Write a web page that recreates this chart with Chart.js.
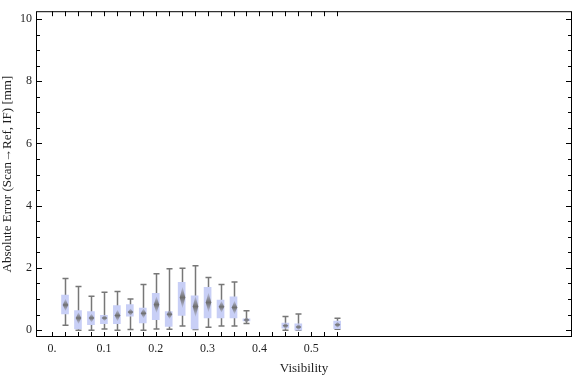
<!DOCTYPE html>
<html>
<head>
<meta charset="utf-8">
<script src="https://cdn.jsdelivr.net/npm/chart.js@4.4.1/dist/chart.umd.min.js"></script>
<style>
  html, body { margin: 0; padding: 0; background: #fff; }
  #wrap { width: 576px; height: 377px; }
</style>
</head>
<body>
<div id="wrap"><canvas id="chart" width="576" height="377"></canvas></div>
<script>
// Box-whisker data (visibility bins)
const positions   = [0.025, 0.05, 0.075, 0.1, 0.125, 0.15, 0.175, 0.2, 0.225, 0.25, 0.275, 0.3, 0.325, 0.35, 0.375, 0.45, 0.475, 0.55];
const whiskerLow  = [0.16, 0.00, 0.00, 0.04, 0.00, 0.02, 0.00, 0.04, 0.03, 0.13, 0.02, 0.09, 0.13, 0.13, 0.21, 0.00, 0.00, 0.03];
const q1Values    = [0.52, 0.04, 0.18, 0.21, 0.21, 0.45, 0.23, 0.34, 0.12, 0.47, 0.04, 0.39, 0.39, 0.39, 0.30, 0.06, 0.00, 0.05];
const medians     = [0.81, 0.39, 0.39, 0.39, 0.47, 0.58, 0.54, 0.82, 0.51, 1.05, 0.76, 0.89, 0.75, 0.73, 0.33, 0.14, 0.10, 0.17];
const q3Values    = [1.13, 0.63, 0.60, 0.48, 0.79, 0.82, 0.71, 1.18, 0.60, 1.54, 1.10, 1.38, 0.97, 1.07, 0.36, 0.23, 0.20, 0.29];
const whiskerHigh = [1.66, 1.40, 1.09, 1.22, 1.24, 1.00, 1.47, 1.81, 1.97, 1.99, 2.07, 1.69, 1.47, 1.55, 0.62, 0.44, 0.52, 0.38];

// Axis ticks
const xMajorTicks  = [0, 0.1, 0.2, 0.3, 0.4, 0.5];
const xMajorLabels = ['0.', '0.1', '0.2', '0.3', '0.4', '0.5'];
const yMajorTicks  = [0, 2, 4, 6, 8, 10];
const yMajorLabels = ['0', '2', '4', '6', '8', '10'];

const xTickValues = [];
for (let i = 0; i <= 22; i++) xTickValues.push(+(i * 0.025).toFixed(3));
const yTickValues = [];
for (let i = 0; i <= 20; i++) yTickValues.push(i * 0.5);

const FONT = "'Liberation Serif', 'DejaVu Serif', serif";
const TXT = '#1e1e1e';

function labelFor(v, ticks, labels) {
    const k = ticks.findIndex(t => Math.abs(t - v) < 1e-6);
    return k >= 0 ? labels[k] : '';
}

// ==========================================
// Whiskers, median diamonds, frame + inward ticks
// ==========================================
const boxPlugin = {
    id: 'boxPlugin',
    beforeDatasetsDraw(chart) {
        const { ctx, scales: { x, y } } = chart;
        ctx.save();
        ctx.strokeStyle = '#777';
        ctx.lineWidth = 1.5;
        positions.forEach((p, i) => {
            const px = Math.round(x.getPixelForValue(p)) + 0.5;
            const yLo = y.getPixelForValue(whiskerLow[i]);
            const yHi = y.getPixelForValue(whiskerHigh[i]);
            ctx.beginPath();
            ctx.moveTo(px, yLo); ctx.lineTo(px, yHi);
            ctx.moveTo(px - 3, yLo); ctx.lineTo(px + 3, yLo);
            ctx.moveTo(px - 3, yHi); ctx.lineTo(px + 3, yHi);
            ctx.stroke();
        });
        ctx.restore();
    },
    afterDatasetsDraw(chart) {
        const { ctx, scales: { x, y } } = chart;
        ctx.save();
        positions.forEach((p, i) => {
            const px = Math.round(x.getPixelForValue(p)) + 0.5;
            const pm = y.getPixelForValue(medians[i]);
            const boxH = Math.abs(y.getPixelForValue(q1Values[i]) - y.getPixelForValue(q3Values[i]));
            const hh = Math.max(3, boxH * 0.32);
            const g = ctx.createLinearGradient(0, pm - hh, 0, pm + hh);
            g.addColorStop(0, 'rgba(128,128,128,0.2)');
            g.addColorStop(0.5, 'rgba(110,110,110,1)');
            g.addColorStop(1, 'rgba(128,128,128,0.2)');
            ctx.fillStyle = g;
            ctx.beginPath();
            ctx.moveTo(px, pm - hh);
            ctx.lineTo(px + 2.8, pm);
            ctx.lineTo(px, pm + hh);
            ctx.lineTo(px - 2.8, pm);
            ctx.closePath();
            ctx.fill();
        });
        ctx.restore();
    },
    afterDraw(chart) {
        const { ctx, chartArea: a, scales: { x, y } } = chart;
        ctx.save();
        ctx.strokeStyle = '#000';
        ctx.lineWidth = 1;
        ctx.strokeRect(a.left + 0.5, a.top + 0.5, a.right - a.left - 1, a.bottom - a.top - 1);
        ctx.beginPath();
        xTickValues.forEach(v => {
            const px = Math.round(x.getPixelForValue(v)) + 0.5;
            ctx.moveTo(px, a.bottom); ctx.lineTo(px, a.bottom - 5);
            ctx.moveTo(px, a.top); ctx.lineTo(px, a.top + 5);
        });
        yTickValues.forEach(v => {
            const py = Math.round(y.getPixelForValue(v)) + 0.5;
            const len = labelFor(v, yMajorTicks, yMajorLabels) ? 6 : 4;
            ctx.moveTo(a.left, py); ctx.lineTo(a.left + len, py);
            ctx.moveTo(a.right, py); ctx.lineTo(a.right - len, py);
        });
        ctx.stroke();
        ctx.restore();
    }
};

const chart = new Chart(document.getElementById('chart').getContext('2d'), {
    type: 'bar',
    data: {
        datasets: [{
            data: positions.map((p, i) => ({ x: p, y: [q1Values[i], q3Values[i]] })),
            backgroundColor: 'rgb(200, 207, 246)',
            borderWidth: 0,
            barThickness: 7
        }]
    },
    options: {
        responsive: false,
        animation: false,
        layout: { padding: { top: 4, right: 4, left: 0, bottom: 0 } },
        plugins: { legend: { display: false }, tooltip: { enabled: false } },
        scales: {
            x: {
                type: 'linear',
                offset: false,
                min: -0.031,
                max: 1.003,
                grid: { display: false, drawTicks: false, offset: false },
                border: { display: false },
                afterBuildTicks: s => { s.ticks = xTickValues.map(v => ({ value: v })); },
                afterFit: s => { s.height = 40; },
                ticks: {
                    autoSkip: false,
                    maxRotation: 0,
                    padding: 5,
                    color: TXT,
                    font: { family: FONT, size: 12 },
                    callback: v => labelFor(v, xMajorTicks, xMajorLabels)
                },
                title: {
                    display: true,
                    text: 'Visibility',
                    color: TXT,
                    font: { family: FONT, size: 13 },
                    padding: { top: 0, bottom: 1 }
                }
            },
            y: {
                min: -0.22,
                max: 10.25,
                grid: { display: false, drawTicks: false },
                border: { display: false },
                afterBuildTicks: s => { s.ticks = yTickValues.map(v => ({ value: v })); },
                afterFit: s => { s.width = 36; },
                ticks: {
                    autoSkip: false,
                    padding: 4,
                    color: TXT,
                    font: { family: FONT, size: 12 },
                    callback: v => labelFor(v, yMajorTicks, yMajorLabels)
                },
                title: {
                    display: true,
                    text: 'Absolute Error (Scan\u2192Ref, IF) [mm]',
                    color: TXT,
                    font: { family: FONT, size: 13 },
                    padding: { top: 0, bottom: 0 }
                }
            }
        }
    },
    plugins: [boxPlugin]
});
</script>
</body>
</html>
